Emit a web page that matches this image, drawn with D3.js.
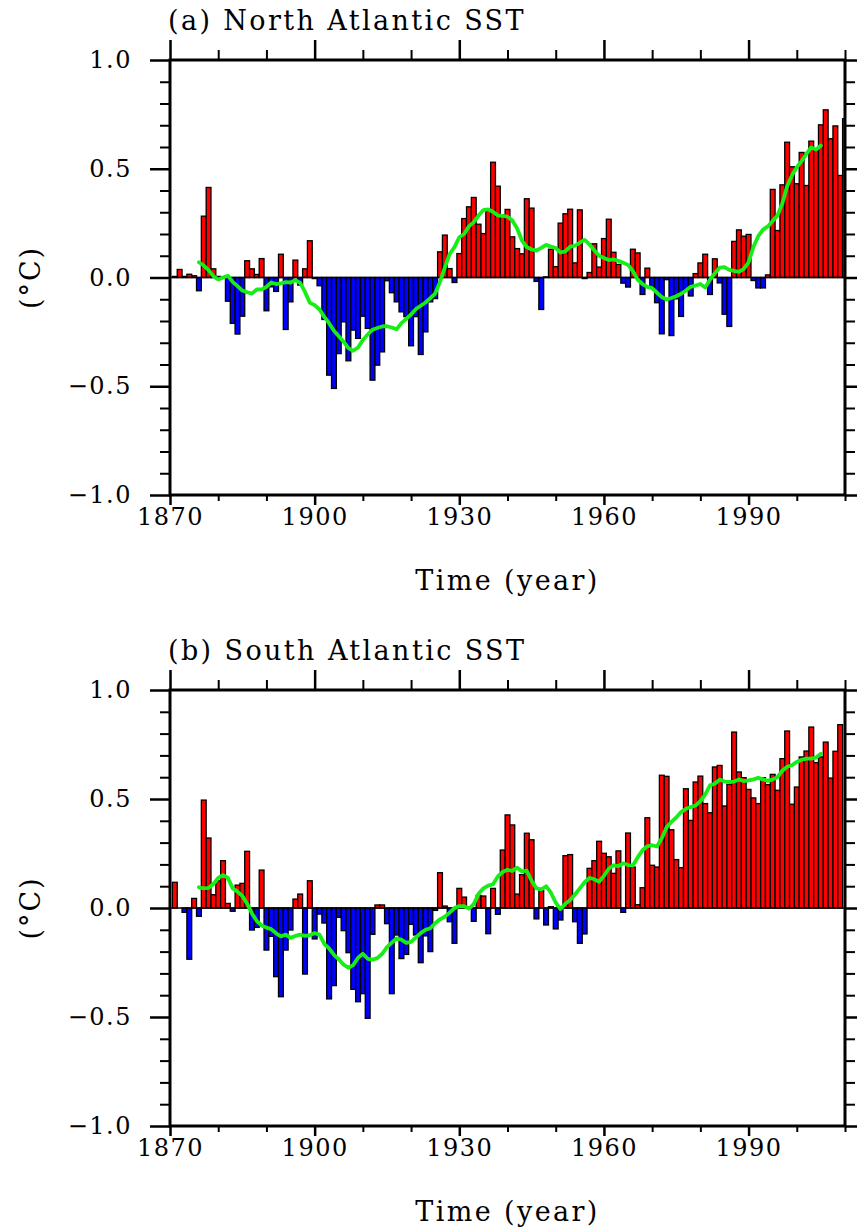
<!DOCTYPE html>
<html>
<head>
<meta charset="utf-8">
<script src="https://cdn.jsdelivr.net/npm/d3@7"></script>
<style>
  body { margin: 0; background: #fff; }
  text { font-family: "DejaVu Serif", serif; fill: #000; }
</style>
</head>
<body>
<div id="chart"></div>
<script>
// yearly anomalies, first bar is 1871
const barStartYear = 1871;

const northBars = [
  0.005, 0.037, 0.005, 0.015, 0.008, -0.061, 0.282, 0.414, 0.04, 0.005,
  0.0, -0.109, -0.211, -0.26, -0.178, 0.077, 0.04, 0.014, 0.087, -0.153,
  -0.043, -0.064, 0.107, -0.239, -0.112, 0.08, -0.035, 0.04, 0.169, -0.005,
  -0.038, -0.193, -0.449, -0.51, -0.35, -0.204, -0.383, -0.242, -0.28, -0.178,
  -0.234, -0.472, -0.403, -0.342, -0.015, -0.07, -0.112, -0.158, -0.18, -0.314,
  -0.18, -0.354, -0.25, -0.112, -0.097, 0.118, 0.195, 0.041, -0.023, 0.11,
  0.271, 0.325, 0.368, 0.245, 0.202, 0.305, 0.53, 0.42, 0.287, 0.313,
  0.187, 0.133, 0.109, 0.362, 0.319, -0.018, -0.147, 0.003, 0.13, 0.05,
  0.25, 0.293, 0.314, 0.067, 0.311, -0.005, 0.023, 0.155, 0.048, 0.179,
  0.268, 0.116, 0.06, -0.026, -0.044, 0.13, 0.113, -0.078, 0.043, -0.044,
  -0.116, -0.259, -0.01, -0.267, -0.098, -0.179, -0.06, -0.085, 0.018, 0.067,
  0.107, -0.078, 0.086, -0.025, -0.169, -0.225, 0.166, 0.219, 0.19, 0.198,
  -0.014, -0.048, -0.048, 0.012, 0.405, 0.216, 0.426, 0.622, 0.509, 0.431,
  0.575, 0.423, 0.627, 0.592, 0.702, 0.771, 0.638, 0.697, 0.469, 0.73,
];

const southBars = [
  0.118, 0.0, -0.02, -0.235, 0.044, -0.038, 0.495, 0.321, 0.061, 0.125,
  0.217, 0.021, -0.015, 0.105, 0.113, 0.26, -0.101, -0.089, 0.174, -0.193,
  -0.13, -0.315, -0.407, -0.193, -0.101, 0.041, 0.064, -0.303, 0.125, -0.142,
  -0.028, -0.069, -0.417, -0.356, -0.043, -0.104, -0.205, -0.373, -0.43, -0.393,
  -0.506, -0.121, 0.014, 0.014, -0.072, -0.393, -0.124, -0.232, -0.213, -0.075,
  -0.124, -0.251, -0.128, -0.2, -0.011, 0.162, 0.009, -0.063, -0.162, 0.09,
  0.05, 0.005, -0.061, 0.058, 0.055, -0.118, 0.09, -0.029, 0.266, 0.427,
  0.381, 0.064, 0.153, 0.343, 0.313, -0.05, 0.08, -0.078, 0.006, -0.096,
  -0.055, 0.24, 0.245, -0.063, -0.162, -0.119, 0.182, 0.217, 0.306, 0.251,
  0.235, 0.159, 0.262, -0.02, 0.344, 0.188, 0.015, 0.093, 0.414, 0.196,
  0.188, 0.609, 0.604, 0.359, 0.222, 0.185, 0.547, 0.402, 0.578, 0.605,
  0.479, 0.437, 0.647, 0.654, 0.468, 0.567, 0.807, 0.624, 0.598, 0.544,
  0.505, 0.479, 0.598, 0.566, 0.613, 0.54, 0.685, 0.812, 0.476, 0.555,
  0.693, 0.72, 0.83, 0.667, 0.693, 0.761, 0.596, 0.719, 0.841,
];

// green running-mean curves, first point is 1876
const smoothStartYear = 1876;

const northSmooth = [
  0.07, 0.055, 0.034, 0.006, -0.009, 0.0, 0.008, -0.02, -0.04, -0.06,
  -0.068, -0.074, -0.055, -0.055, -0.043, -0.023, -0.03, -0.027, -0.021, -0.023,
  -0.012, -0.025, -0.066, -0.116, -0.127, -0.147, -0.181, -0.21, -0.245, -0.27,
  -0.295, -0.325, -0.337, -0.322, -0.288, -0.262, -0.24, -0.232, -0.225, -0.224,
  -0.23, -0.238, -0.21, -0.19, -0.17, -0.145, -0.13, -0.115, -0.095, -0.074,
  -0.02, 0.045, 0.108, 0.14, 0.185, 0.2, 0.235, 0.255, 0.285, 0.31,
  0.313, 0.302, 0.285, 0.283, 0.28, 0.262, 0.225, 0.17, 0.14, 0.129,
  0.124, 0.136, 0.15, 0.142, 0.135, 0.115, 0.12, 0.142, 0.146, 0.16,
  0.173, 0.152, 0.125, 0.1, 0.09, 0.08, 0.083, 0.077, 0.068, 0.058,
  0.03, -0.01, -0.03, -0.043, -0.049, -0.07, -0.09, -0.101, -0.094, -0.086,
  -0.075, -0.06, -0.043, -0.037, -0.03, -0.046, -0.01, 0.02, 0.045, 0.048,
  0.035, 0.03, 0.026, 0.04, 0.07, 0.14, 0.19, 0.22, 0.235, 0.26,
  0.285, 0.34, 0.42, 0.47, 0.507, 0.535, 0.568, 0.598, 0.588, 0.607,
];

const southSmooth = [
  0.095, 0.09, 0.092, 0.11, 0.138, 0.151, 0.138, 0.09, 0.075, 0.055,
  0.02, -0.025, -0.06, -0.08, -0.09, -0.097, -0.116, -0.13, -0.122, -0.137,
  -0.128, -0.122, -0.128, -0.125, -0.115, -0.122, -0.165, -0.185, -0.215, -0.235,
  -0.26, -0.274, -0.262, -0.228, -0.21, -0.233, -0.237, -0.23, -0.21, -0.18,
  -0.159, -0.14, -0.145, -0.16, -0.155, -0.135, -0.115, -0.1, -0.093, -0.07,
  -0.052, -0.04, -0.021, 0.0, 0.009, 0.008, -0.003, 0.018, 0.065, 0.09,
  0.103, 0.109, 0.145, 0.165, 0.175, 0.17, 0.185, 0.168, 0.171, 0.125,
  0.09, 0.085, 0.1, 0.07, 0.025, -0.005, 0.02, 0.037, 0.062, 0.09,
  0.118, 0.138, 0.132, 0.12, 0.148, 0.18, 0.196, 0.192, 0.205, 0.197,
  0.195, 0.232, 0.265, 0.283, 0.288, 0.282, 0.32, 0.37, 0.395, 0.415,
  0.44, 0.455, 0.463, 0.47, 0.49, 0.52, 0.563, 0.57, 0.589, 0.58,
  0.578, 0.58, 0.59, 0.582, 0.585, 0.59, 0.597, 0.59, 0.583, 0.59,
  0.6, 0.63, 0.648, 0.655, 0.67, 0.68, 0.685, 0.685, 0.69, 0.708,
];

const xMajorTicks = [1870, 1900, 1930, 1960, 1990];
const xMinorTicks = [1880, 1890, 1910, 1920, 1940, 1950, 1970, 1980, 2000, 2010];
const yMajorTicks = [-1.0, -0.5, 0.0, 0.5, 1.0];
const yMinorTicks = [-0.9, -0.8, -0.7, -0.6, -0.4, -0.3, -0.2, -0.1,
  0.1, 0.2, 0.3, 0.4, 0.6, 0.7, 0.8, 0.9];
const panelTitles = ["(a) North Atlantic SST", "(b) South Atlantic SST"];
const xTitle = "Time (year)";
const yTitle = "(\u00b0C)";

const width = 857;
const height = 1232;
const left = 170;
const right = 845;

const panels = [
  { top: 60, bottom: 495, title: panelTitles[0], bars: northBars, smooth: northSmooth },
  { top: 690, bottom: 1126, title: panelTitles[1], bars: southBars, smooth: southSmooth },
];

const x = d3.scaleLinear().domain([1870, 2010]).range([left, right]);

const svg = d3
  .select("#chart")
  .append("svg")
  .attr("width", width)
  .attr("height", height);

const fmtY = (d) => (d < 0 ? "\u2212" : "") + d3.format(".1f")(Math.abs(d));

const drawPanel = (p, i) => {
  const y = d3.scaleLinear().domain([-1, 1]).range([p.bottom, p.top]);
  const g = svg.append("g");

  g.append("clipPath")
    .attr("id", `clip-${i}`)
    .append("rect")
    .attr("x", left)
    .attr("y", p.top)
    .attr("width", right - left)
    .attr("height", p.bottom - p.top);

  const plot = g.append("g").attr("clip-path", `url(#clip-${i})`);

  const barData = p.bars.map((v, k) => ({ year: barStartYear + k, value: v }));

  plot
    .selectAll("rect.bar")
    .data(barData)
    .join("rect")
    .attr("class", "bar")
    .attr("x", (d) => x(d.year - 0.5))
    .attr("width", (d) => x(d.year + 0.5) - x(d.year - 0.5))
    .attr("y", (d) => y(Math.max(0, d.value)))
    .attr("height", (d) => Math.abs(y(d.value) - y(0)))
    .attr("fill", (d) => (d.value >= 0 ? "#ff0000" : "#0000ff"))
    .attr("stroke", "#000")
    .attr("stroke-width", 1.3);

  plot
    .append("line")
    .attr("x1", left)
    .attr("x2", right)
    .attr("y1", y(0))
    .attr("y2", y(0))
    .attr("stroke", "#000")
    .attr("stroke-width", 1.6);

  const lineData = p.smooth.map((v, k) => ({ year: smoothStartYear + k, value: v }));
  const line = d3
    .line()
    .x((d) => x(d.year))
    .y((d) => y(d.value));

  plot
    .append("path")
    .datum(lineData)
    .attr("d", line)
    .attr("fill", "none")
    .attr("stroke", "#16ee16")
    .attr("stroke-width", 3.8)
    .attr("stroke-linejoin", "round")
    .attr("stroke-linecap", "round");

  // ticks, all pointing outward
  const addAxis = (axis, transform, sw) => {
    const a = g.append("g").attr("transform", transform).call(axis);
    a.select(".domain").remove();
    a.selectAll("line").attr("stroke-width", sw);
    a.selectAll("text")
      .style("font-family", '"DejaVu Serif", serif')
      .style("font-size", "24px")
      .style("letter-spacing", "1.5px");
    return a;
  };

  addAxis(
    d3.axisLeft(y).tickValues(yMajorTicks).tickSize(20).tickPadding(18).tickFormat(fmtY),
    `translate(${left},0)`, 2.5
  );
  addAxis(
    d3.axisLeft(y).tickValues(yMinorTicks).tickSize(10).tickFormat(""),
    `translate(${left},0)`, 2
  );
  addAxis(
    d3.axisRight(y).tickValues(yMajorTicks).tickSize(20).tickFormat(""),
    `translate(${right},0)`, 2.5
  );
  addAxis(
    d3.axisRight(y).tickValues(yMinorTicks).tickSize(10).tickFormat(""),
    `translate(${right},0)`, 2
  );
  addAxis(
    d3.axisTop(x).tickValues(xMajorTicks).tickSize(20).tickFormat(""),
    `translate(0,${p.top})`, 2.5
  );
  addAxis(
    d3.axisTop(x).tickValues(xMinorTicks).tickSize(10).tickFormat(""),
    `translate(0,${p.top})`, 2
  );
  addAxis(
    d3.axisBottom(x).tickValues(xMajorTicks).tickSize(10).tickPadding(3).tickFormat(d3.format("d")),
    `translate(0,${p.bottom})`, 2.5
  );
  addAxis(
    d3.axisBottom(x).tickValues(xMinorTicks).tickSize(6).tickFormat(""),
    `translate(0,${p.bottom})`, 2
  );

  g.append("rect")
    .attr("x", left)
    .attr("y", p.top)
    .attr("width", right - left)
    .attr("height", p.bottom - p.top)
    .attr("fill", "none")
    .attr("stroke", "#000")
    .attr("stroke-width", 3);

  g.append("text")
    .attr("x", left - 2)
    .attr("y", p.top - 30)
    .style("font-size", "27px")
    .style("letter-spacing", "2.4px")
    .text(p.title);

  g.append("text")
    .attr("x", (left + right) / 2)
    .attr("y", p.bottom + 95)
    .attr("text-anchor", "middle")
    .style("font-size", "27px")
    .style("letter-spacing", "2.4px")
    .text(xTitle);

  g.append("text")
    .attr("transform", `translate(30,${(p.top + p.bottom) / 2}) rotate(-90)`)
    .attr("text-anchor", "middle")
    .attr("dominant-baseline", "central")
    .style("font-size", "27px")
    .style("letter-spacing", "2px")
    .text(yTitle);
};

panels.forEach(drawPanel);
</script>
</body>
</html>
